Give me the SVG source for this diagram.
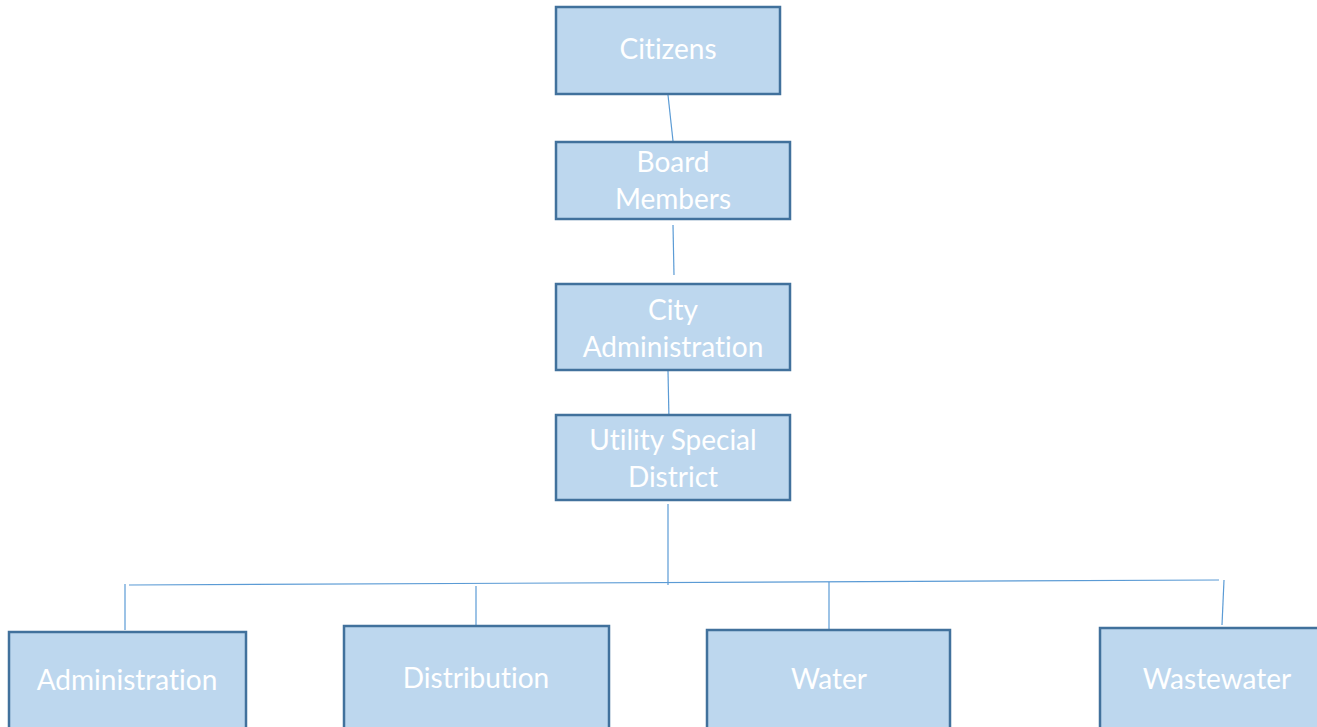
<svg xmlns="http://www.w3.org/2000/svg" width="1317" height="727" viewBox="0 0 1317 727">
<style>
.box{fill:#BDD7EE;stroke:#41719C;stroke-width:2.5}
.lbl{fill:#FFFFFF;font-family:Lato,"Open Sans","Liberation Sans",sans-serif;font-size:28px;text-anchor:middle;font-variant-ligatures:none;font-feature-settings:"liga" 0}
.conn{stroke:#5B9BD5;stroke-width:1.2;fill:none}
</style>
<rect width="1317" height="727" fill="#FFFFFF"/>
<g id="connectors">
<line class="conn" x1="668" y1="95" x2="673" y2="141"/>
<line class="conn" x1="673" y1="225" x2="674" y2="275"/>
<line class="conn" x1="668" y1="371" x2="669" y2="420"/>
<line class="conn" x1="668" y1="504" x2="668" y2="585"/>
<line class="conn" x1="129" y1="585" x2="1219" y2="580"/>
<line class="conn" x1="125" y1="584" x2="125" y2="630"/>
<line class="conn" x1="476" y1="586" x2="476" y2="625"/>
<line class="conn" x1="829" y1="582" x2="829" y2="629"/>
<line class="conn" x1="1224" y1="580" x2="1222" y2="625"/>
</g>
<g id="citizens">
<rect class="box" x="556" y="7" width="224" height="87"/>
<text class="lbl" x="668" y="59">Citizens</text>
</g>
<g id="board">
<rect class="box" x="556" y="142" width="234" height="77"/>
<text class="lbl" x="673" y="172">Board</text>
<text class="lbl" x="673" y="209">Members</text>
</g>
<g id="city">
<rect class="box" x="556" y="284" width="234" height="86"/>
<text class="lbl" x="673" y="320">City</text>
<text class="lbl" x="673" y="357">Administration</text>
</g>
<g id="utility">
<rect class="box" x="556" y="415" width="234" height="85"/>
<text class="lbl" x="673" y="450">Utility Special</text>
<text class="lbl" x="673" y="487">District</text>
</g>
<g id="administration">
<rect class="box" x="9" y="632" width="237" height="100"/>
<text class="lbl" x="127" y="690">Administration</text>
</g>
<g id="distribution">
<rect class="box" x="344" y="626" width="265" height="106"/>
<text class="lbl" x="476" y="688">Distribution</text>
</g>
<g id="water">
<rect class="box" x="707" y="630" width="243" height="102"/>
<text class="lbl" x="829" y="689">Water</text>
</g>
<g id="wastewater">
<rect class="box" x="1100" y="628" width="230" height="104"/>
<text class="lbl" x="1217" y="689">Wastewater</text>
</g>
</svg>
